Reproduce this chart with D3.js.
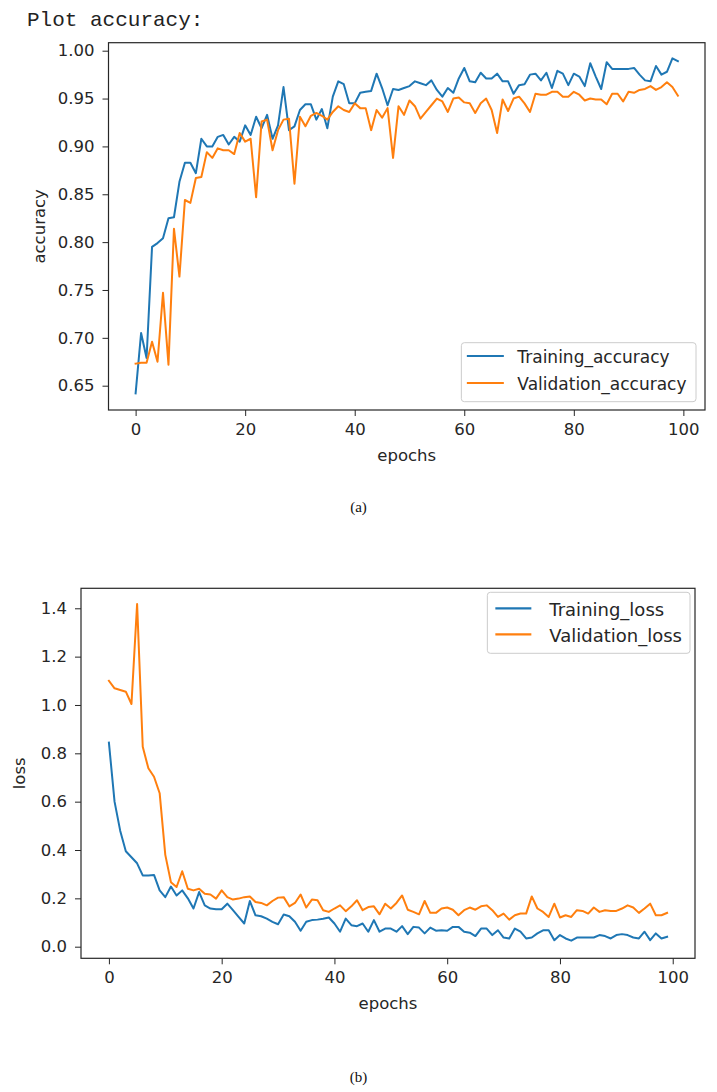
<!DOCTYPE html>
<html>
<head>
<meta charset="utf-8">
<script src="https://cdn.jsdelivr.net/npm/d3@7"></script>
<style>
  html, body { margin: 0; padding: 0; background: #fff; }
  svg { display: block; }
  text { font-family: "DejaVu Sans", sans-serif; fill: #262626; }
</style>
</head>
<body>
<svg id="chart" width="717" height="1092"></svg>
<script>
const epochs = d3.range(100);
const trainAcc = [0.642,0.705,0.679,0.795,0.799,0.804,0.825,0.826,0.863,0.883,
0.883,0.872,0.908,0.900,0.900,0.910,0.912,0.902,0.910,0.905,
0.922,0.912,0.931,0.919,0.933,0.908,0.922,0.962,0.917,0.921,
0.938,0.944,0.944,0.928,0.939,0.919,0.952,0.968,0.965,0.945,
0.945,0.956,0.957,0.958,0.976,0.961,0.943,0.960,0.959,0.961,
0.963,0.968,0.966,0.964,0.969,0.959,0.952,0.961,0.956,0.971,
0.982,0.968,0.967,0.977,0.971,0.971,0.976,0.968,0.968,0.955,
0.964,0.965,0.975,0.976,0.969,0.977,0.961,0.979,0.976,0.964,
0.976,0.973,0.963,0.987,0.973,0.960,0.988,0.981,0.981,0.981,
0.981,0.982,0.975,0.969,0.968,0.984,0.975,0.978,0.992,0.989];
const valAcc = [0.673,0.674,0.674,0.696,0.675,0.747,0.672,0.814,0.764,0.844,
0.841,0.867,0.868,0.894,0.888,0.898,0.896,0.896,0.892,0.914,
0.905,0.908,0.847,0.926,0.928,0.896,0.917,0.928,0.929,0.861,
0.931,0.921,0.932,0.935,0.932,0.928,0.936,0.942,0.938,0.936,
0.945,0.940,0.940,0.917,0.938,0.930,0.940,0.888,0.942,0.933,
0.948,0.942,0.929,0.936,0.943,0.950,0.947,0.936,0.950,0.951,
0.946,0.945,0.935,0.945,0.950,0.938,0.914,0.949,0.937,0.950,
0.952,0.945,0.936,0.955,0.954,0.954,0.957,0.957,0.952,0.952,
0.957,0.954,0.948,0.950,0.949,0.949,0.944,0.955,0.955,0.947,
0.957,0.956,0.959,0.960,0.963,0.959,0.962,0.967,0.962,0.953];
const trainLoss = [0.844,0.600,0.480,0.395,0.370,0.345,0.295,0.295,0.297,0.233,
0.205,0.249,0.212,0.233,0.200,0.158,0.226,0.171,0.158,0.155,
0.155,0.178,0.151,0.123,0.096,0.189,0.130,0.126,0.116,0.103,
0.093,0.133,0.126,0.103,0.066,0.103,0.110,0.112,0.116,0.121,
0.096,0.062,0.116,0.089,0.085,0.096,0.062,0.110,0.062,0.075,
0.075,0.062,0.085,0.052,0.082,0.079,0.055,0.079,0.066,0.068,
0.066,0.082,0.082,0.062,0.058,0.044,0.075,0.075,0.048,0.068,
0.038,0.034,0.075,0.062,0.034,0.038,0.055,0.068,0.068,0.027,
0.048,0.034,0.025,0.038,0.038,0.038,0.038,0.048,0.044,0.034,
0.048,0.052,0.048,0.038,0.034,0.062,0.027,0.055,0.034,0.041];
const valLoss = [1.100,1.069,1.062,1.055,1.004,1.418,0.827,0.738,0.703,0.635,
0.380,0.267,0.247,0.312,0.240,0.233,0.240,0.219,0.216,0.199,
0.233,0.205,0.195,0.199,0.205,0.208,0.185,0.181,0.171,0.189,
0.203,0.205,0.167,0.181,0.216,0.162,0.195,0.192,0.151,0.144,
0.158,0.171,0.147,0.167,0.192,0.151,0.164,0.167,0.134,0.178,
0.158,0.181,0.212,0.153,0.144,0.134,0.189,0.140,0.140,0.158,
0.162,0.153,0.130,0.151,0.162,0.153,0.167,0.171,0.151,0.123,
0.137,0.112,0.130,0.137,0.137,0.208,0.158,0.144,0.123,0.178,
0.121,0.130,0.123,0.151,0.148,0.137,0.162,0.144,0.151,0.148,
0.148,0.158,0.171,0.162,0.140,0.158,0.178,0.130,0.130,0.140];

const xTicks = [0, 20, 40, 60, 80, 100];
const accTicks = [0.65, 0.70, 0.75, 0.80, 0.85, 0.90, 0.95, 1.00];
const lossTicks = [0.0, 0.2, 0.4, 0.6, 0.8, 1.0, 1.2, 1.4];
const accLegend = ["Training_accuracy", "Validation_accuracy"];
const lossLegend = ["Training_loss", "Validation_loss"];
const colors = ["#1f77b4", "#ff7f0e"];

const svg = d3.select("#chart");
svg.append("rect").attr("width", 717).attr("height", 1092).attr("fill", "#fff");

svg.append("text")
  .attr("x", 27).attr("y", 25.5)
  .style("font-family", "'Liberation Mono', 'DejaVu Sans Mono', monospace")
  .style("font-size", "21px")
  .style("fill", "#222")
  .text("Plot accuracy:");

function drawPanel(opt) {
  const {left, right, top, bottom, yDomain, yTicks, yFmt, series, labels, ylabel, ylabelX,
         legendPos, legend, caption, captionY, xlabelY} = opt;
  const x = d3.scaleLinear().domain([-4.95, 103.95]).range([left, right]);
  const y = d3.scaleLinear().domain(yDomain).range([bottom, top]);
  const g = svg.append("g");

  const line = d3.line().x((d, i) => x(epochs[i])).y(d => y(d));
  series.forEach((s, i) => {
    g.append("path").datum(s)
      .attr("fill", "none").attr("stroke", colors[i])
      .attr("stroke-width", 2).attr("stroke-linejoin", "round").attr("stroke-linecap", "square")
      .attr("d", line);
  });

  const ax = g.append("g").attr("transform", `translate(0,${bottom})`)
    .call(d3.axisBottom(x).tickValues(xTicks).tickSize(6).tickPadding(7).tickFormat(d3.format("d")));
  const ay = g.append("g").attr("transform", `translate(${left},0)`)
    .call(d3.axisLeft(y).tickValues(yTicks).tickSize(6).tickPadding(8).tickFormat(d3.format(yFmt)));
  [ax, ay].forEach(a => {
    a.select(".domain").remove();
    a.selectAll("line").attr("stroke", "#262626").attr("stroke-width", 1);
    a.selectAll("text").style("font-size", "16.5px").style("fill", "#262626")
      .style("font-family", "'DejaVu Sans', sans-serif");
  });

  g.append("rect").attr("x", left).attr("y", top)
    .attr("width", right - left).attr("height", bottom - top)
    .attr("fill", "none").attr("stroke", "#262626").attr("stroke-width", 1.2);

  g.append("text").attr("x", (left + right) / 2).attr("y", xlabelY)
    .attr("text-anchor", "middle").style("font-size", "16.5px").text("epochs");
  g.append("text")
    .attr("transform", `translate(${ylabelX},${(top + bottom) / 2}) rotate(-90)`)
    .attr("text-anchor", "middle").style("font-size", "16.5px").text(ylabel);

  // legend
  const L = legend;
  const lg = g.append("g");
  const texts = labels.map((t, i) => lg.append("text").attr("x", 0).attr("y", 0)
    .style("font-size", L.font + "px").attr("dominant-baseline", "central").text(t));
  const tw = d3.max(texts, t => t.node().getComputedTextLength());
  const w = L.padL + L.lineLen + L.gap + tw + L.padR, h = L.h;
  const bx = right - L.offR - w;
  const by = legendPos === "lower" ? bottom - L.offV - h : top + L.offV;
  lg.insert("rect", "text").attr("x", bx).attr("y", by).attr("width", w).attr("height", h)
    .attr("rx", 3).attr("fill", "#fff").attr("fill-opacity", 0.8)
    .attr("stroke", "#cccccc").attr("stroke-width", 1);
  labels.forEach((t, i) => {
    const ly = by + L.first + i * L.step;
    lg.append("line").attr("x1", bx + L.padL).attr("x2", bx + L.padL + L.lineLen).attr("y1", ly).attr("y2", ly)
      .attr("stroke", colors[i]).attr("stroke-width", 2.2);
    texts[i].attr("x", bx + L.padL + L.lineLen + L.gap).attr("y", ly + 1);
  });

  svg.append("text").attr("x", 358.5).attr("y", captionY).attr("text-anchor", "middle")
    .style("font-family", "'Liberation Serif', 'DejaVu Serif', serif")
    .style("font-size", "15px").style("fill", "#111").text(caption);
}

drawPanel({
  left: 108.5, right: 705, top: 42.7, bottom: 410,
  yDomain: [0.6246, 1.00836], yTicks: accTicks, yFmt: ".2f",
  series: [trainAcc, valAcc], labels: accLegend, ylabel: "accuracy", ylabelX: 45,
  legendPos: "lower",
  legend: {font: 17, padL: 5.5, lineLen: 37, gap: 13.5, padR: 9.5, h: 59, first: 13.3, step: 27, offR: 9, offV: 8.3},
  caption: "(a)", captionY: 512, xlabelY: 461
});

drawPanel({
  left: 81, right: 695, top: 588.3, bottom: 958.3,
  yDomain: [-0.048, 1.4827], yTicks: lossTicks, yFmt: ".1f",
  series: [trainLoss, valLoss], labels: lossLegend, ylabel: "loss", ylabelX: 25,
  legendPos: "upper",
  legend: {font: 18, padL: 8, lineLen: 36, gap: 18, padR: 8, h: 61, first: 16, step: 26, offR: 5, offV: 4},
  caption: "(b)", captionY: 1082, xlabelY: 1009
});
</script>
</body>
</html>
